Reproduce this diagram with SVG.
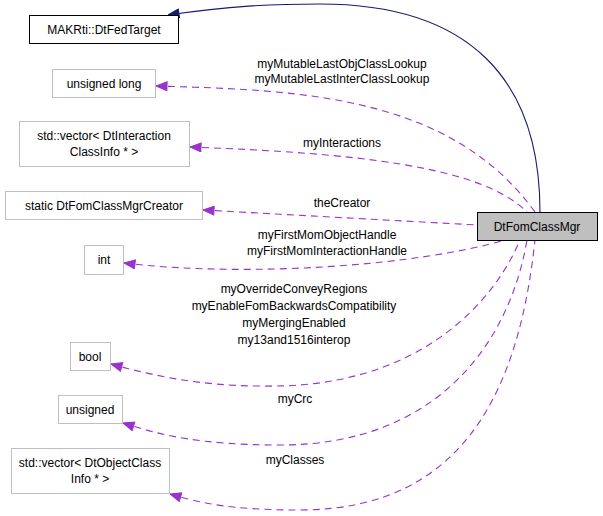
<svg xmlns="http://www.w3.org/2000/svg" width="603" height="516" viewBox="0 0 603 516">
<style>
text{font-family:"Liberation Sans",Arial,sans-serif;font-size:12px;fill:#000;text-anchor:middle}
.n{fill:#fff;stroke:#bfbfbf;stroke-width:1}
.e{fill:none;stroke:#9a32cd;stroke-width:1.1;stroke-dasharray:7,5}
</style>
<defs>
<marker id="ap" markerWidth="12" markerHeight="10" refX="0" refY="5" orient="auto" markerUnits="userSpaceOnUse"><path d="M0,5 L11,0.5 L11,9.5 Z" fill="#9a32cd" stroke="#9a32cd"/></marker>
<marker id="ab" markerWidth="12" markerHeight="10" refX="0" refY="5" orient="auto" markerUnits="userSpaceOnUse"><path d="M0,5 L11,0.5 L11,9.5 Z" fill="#191970" stroke="#191970"/></marker>
</defs>
<g id="edges">
<path d="M168,15 C230,6 270,4 320,4 C470,4 540,80 540,212" fill="none" stroke="#191970" stroke-width="1.1" marker-start="url(#ab)"/>
<path class="e" d="M156,86 C300,90 450,95 535,212" marker-start="url(#ap)"/>
<path class="e" d="M190,147 C350,153 480,165 527,212" marker-start="url(#ap)"/>
<path class="e" d="M203,210 L477,225" marker-start="url(#ap)"/>
<path class="e" d="M124,263 C250,278 420,265 505,240" marker-start="url(#ap)"/>
<path class="e" d="M111,364 C150,375 200,386 260,386 C420,390 495,300 520,240" marker-start="url(#ap)"/>
<path class="e" d="M123,423 C160,435 200,445 280,445 C440,445 510,340 527,240" marker-start="url(#ap)"/>
<path class="e" d="M170,494 C200,503 230,510 300,510 C470,510 520,380 535,240" marker-start="url(#ap)"/>
</g>
<g id="DtFomClassMgr"><rect x="477.5" y="212.5" width="120" height="28" fill="#bfbfbf" stroke="#000"/><text x="537" y="230.5">DtFomClassMgr</text></g>
<g id="DtFedTarget"><rect x="29.5" y="15.5" width="149" height="28" fill="#fff" stroke="#000"/><text x="104" y="33.5">MAKRti::DtFedTarget</text></g>
<g id="ulong"><rect class="n" x="52.5" y="69.5" width="103" height="28"/><text x="104" y="87.5">unsigned long</text></g>
<g id="vecInter"><rect class="n" x="19.5" y="121.5" width="170" height="45"/><text x="104" y="140">std::vector&lt; DtInteraction</text><text x="104" y="156">ClassInfo * &gt;</text></g>
<g id="creator"><rect class="n" x="5.5" y="191.5" width="197" height="28"/><text x="104" y="209.5">static DtFomClassMgrCreator</text></g>
<g id="int"><rect class="n" x="84.5" y="245.5" width="39" height="29"/><text x="104" y="264">int</text></g>
<g id="bool"><rect class="n" x="70.5" y="342.5" width="40" height="28"/><text x="90" y="360.5">bool</text></g>
<g id="unsigned"><rect class="n" x="58.5" y="395.5" width="64" height="28"/><text x="90" y="413.5">unsigned</text></g>
<g id="vecObj"><rect class="n" x="11.5" y="448.5" width="158" height="45"/><text x="90" y="467">std::vector&lt; DtObjectClass</text><text x="90" y="483">Info * &gt;</text></g>
<g id="labels">
<text x="342" y="68">myMutableLastObjClassLookup</text>
<text x="342" y="83">myMutableLastInterClassLookup</text>
<text x="342" y="147">myInteractions</text>
<text x="342" y="207">theCreator</text>
<text x="327" y="239">myFirstMomObjectHandle</text>
<text x="327" y="255">myFirstMomInteractionHandle</text>
<text x="294" y="293">myOverrideConveyRegions</text>
<text x="294" y="310">myEnableFomBackwardsCompatibility</text>
<text x="294" y="327">myMergingEnabled</text>
<text x="294" y="344">my13and1516interop</text>
<text x="295" y="403">myCrc</text>
<text x="295" y="464">myClasses</text>
</g>
</svg>
